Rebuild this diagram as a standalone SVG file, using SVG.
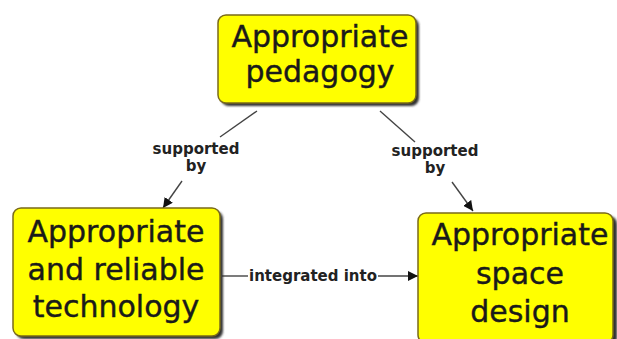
<svg xmlns="http://www.w3.org/2000/svg" width="617" height="339" viewBox="0 0 617 339">
<defs>
<filter id="sh" x="-10%" y="-10%" width="130%" height="130%"><feGaussianBlur stdDeviation="1"/></filter>
<marker id="arr" viewBox="0 0 10 10" refX="10" refY="5" markerWidth="10" markerHeight="10" markerUnits="userSpaceOnUse" orient="auto"><path d="M0,0 L10,5 L0,10 Z" fill="#111"/></marker>
</defs>
<style>
.shadow{fill:#333;filter:url(#sh)}
.box{fill:#ffff00;stroke:#7a6a1a;stroke-width:1.5}
.t{font-family:"DejaVu Sans",Verdana,sans-serif;font-size:30px;fill:#1a1a1a;stroke:#1a1a1a;stroke-width:0.4;text-anchor:middle}
.lbl{font-family:"DejaVu Sans",Verdana,sans-serif;font-size:15px;font-weight:bold;fill:#222;text-anchor:middle}
.ln{stroke:#444;stroke-width:1.4;fill:none}
</style>
<rect width="617" height="339" fill="#fff"/>
<g id="connectors">
<line class="ln" x1="257" y1="111" x2="220" y2="137"/>
<line class="ln" x1="182" y1="181" x2="163" y2="208" marker-end="url(#arr)"/>
<text class="lbl" x="196" y="154">supported</text>
<text class="lbl" x="196" y="171">by</text>
<line class="ln" x1="380" y1="111" x2="415" y2="142"/>
<line class="ln" x1="452" y1="182" x2="473" y2="211" marker-end="url(#arr)"/>
<text class="lbl" x="435" y="156">supported</text>
<text class="lbl" x="435" y="173">by</text>
<line class="ln" x1="222" y1="276" x2="248" y2="276"/>
<line class="ln" x1="378" y1="276" x2="418" y2="276" marker-end="url(#arr)"/>
<text class="lbl" x="313" y="281">integrated into</text>
</g>
<g id="node-pedagogy">
<rect class="shadow" x="221" y="18" width="198" height="88" rx="8"/>
<rect class="box" x="218" y="15" width="198" height="88" rx="8"/>
<text class="t" x="320" y="47">Appropriate</text>
<text class="t" x="320" y="82">pedagogy</text>
</g>
<g id="node-technology">
<rect class="shadow" x="16" y="211" width="207" height="128" rx="8"/>
<rect class="box" x="13" y="208" width="207" height="128" rx="8"/>
<text class="t" x="116" y="242">Appropriate</text>
<text class="t" x="116" y="280">and reliable</text>
<text class="t" x="116" y="317">technology</text>
</g>
<g id="node-space">
<rect class="shadow" x="421" y="216" width="196" height="130" rx="8"/>
<rect class="box" x="418" y="213" width="195" height="130" rx="8"/>
<text class="t" x="520" y="245">Appropriate</text>
<text class="t" x="520" y="284">space</text>
<text class="t" x="520" y="322">design</text>
</g>
</svg>
